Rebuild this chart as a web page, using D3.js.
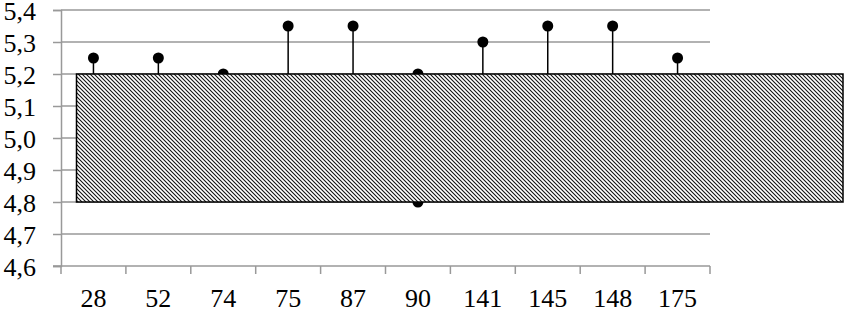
<!DOCTYPE html>
<html>
<head>
<meta charset="utf-8">
<script src="https://cdn.jsdelivr.net/npm/d3@7"></script>
<style>
  body { margin: 0; background: #fff; }
</style>
</head>
<body>
<svg id="chart"></svg>
<script>
const categories = ['28', '52', '74', '75', '87', '90', '141', '145', '148', '175'];
const values = [5.25, 5.25, 5.2, 5.35, 5.35, 5.2, 5.3, 5.35, 5.35, 5.25];
const extraPoints = [{cat: '90', value: 4.8}];
const bandLimits = [4.8, 5.2];
const yTicks = [4.6, 4.7, 4.8, 4.9, 5.0, 5.1, 5.2, 5.3, 5.4];

const width = 844,
  height = 311,
  plotLeft = 61,
  plotRight = 710,
  plotTop = 10,
  plotBottom = 266,
  serif = '"Liberation Serif", "Times New Roman", serif';

const svg = d3.select('#chart')
  .attr('width', width)
  .attr('height', height);

// hatch for the band
const defs = svg.append('defs');
defs.append('pattern')
    .attr('id', 'hatch')
    .attr('patternUnits', 'userSpaceOnUse')
    .attr('width', 4)
    .attr('height', 4)
  .append('path')
    .attr('d', 'M-1,-1L5,5M-1,3L1,5M3,-1L5,1')
    .attr('stroke', '#111')
    .attr('stroke-width', 1.1);

const x = d3.scaleBand()
  .domain(categories)
  .range([plotLeft, plotRight]);

const y = d3.scaleLinear()
  .domain([4.6, 5.4])
  .range([plotBottom, plotTop]);

const fmt = d => d3.format('.1f')(d).replace('.', ',');

// gridlines
svg.append('g')
  .selectAll('line')
  .data(yTicks.slice(1))
  .enter()
    .append('line')
    .attr('x1', plotLeft)
    .attr('x2', plotRight)
    .attr('y1', d => y(d))
    .attr('y2', d => y(d))
    .attr('stroke', '#999')
    .attr('stroke-width', 1.5);

// y axis
const yAxis = svg.append('g')
  .attr('transform', `translate(${plotLeft},0)`)
  .call(d3.axisLeft(y).tickValues(yTicks).tickFormat(fmt).tickSize(8).tickPadding(17))
  .attr('font-family', serif)
  .attr('font-size', 26);
yAxis.select('.domain').attr('stroke', '#999').attr('stroke-width', 1.5);
yAxis.selectAll('.tick line').attr('stroke', '#999').attr('stroke-width', 1.5);
yAxis.selectAll('text')
  .attr('fill', '#000')
  .attr('dy', '0.35em');

// x axis
const xAxis = svg.append('g')
  .attr('transform', `translate(0,${plotBottom})`)
  .call(d3.axisBottom(x).tickSize(0).tickPadding(23))
  .attr('font-family', serif)
  .attr('font-size', 26);
xAxis.select('.domain').remove();
xAxis.append('line')
  .attr('x1', plotLeft - 8)
  .attr('x2', plotRight)
  .attr('stroke', '#999')
  .attr('stroke-width', 1.5);
xAxis.selectAll('.bound')
  .data(categories.concat(['end']))
  .enter()
    .append('line')
    .attr('x1', (d, i) => plotLeft + i * x.bandwidth())
    .attr('x2', (d, i) => plotLeft + i * x.bandwidth())
    .attr('y1', 0)
    .attr('y2', 8)
    .attr('stroke', '#999')
    .attr('stroke-width', 1.5);
xAxis.selectAll('.tick text')
  .attr('fill', '#000');

const cx = d => x(d) + x.bandwidth() / 2;

// stems from upper limit
svg.append('g')
  .selectAll('line')
  .data(categories)
  .enter()
    .append('line')
    .attr('x1', d => cx(d))
    .attr('x2', d => cx(d))
    .attr('y1', (d, i) => y(values[i]))
    .attr('y2', y(bandLimits[1]))
    .attr('stroke', '#000')
    .attr('stroke-width', 1.5);

// points
const pts = categories.map((c, i) => ({cat: c, value: values[i]})).concat(extraPoints);
svg.append('g')
  .selectAll('circle')
  .data(pts)
  .enter()
    .append('circle')
    .attr('cx', d => cx(d.cat))
    .attr('cy', d => y(d.value))
    .attr('r', 5.5)
    .attr('fill', '#000');

// hatched band on top (white underlay hides grid and points)
const bandX = x(categories[0]) + 15.5;
const bandW = width - 1 - bandX;
svg.append('rect')
  .attr('x', bandX)
  .attr('y', y(bandLimits[1]))
  .attr('width', bandW)
  .attr('height', y(bandLimits[0]) - y(bandLimits[1]))
  .attr('fill', '#fff');
svg.append('rect')
  .attr('x', bandX)
  .attr('y', y(bandLimits[1]))
  .attr('width', bandW)
  .attr('height', y(bandLimits[0]) - y(bandLimits[1]))
  .attr('fill', 'url(#hatch)')
  .attr('stroke', '#000')
  .attr('stroke-width', 1.5);
</script>
</body>
</html>
